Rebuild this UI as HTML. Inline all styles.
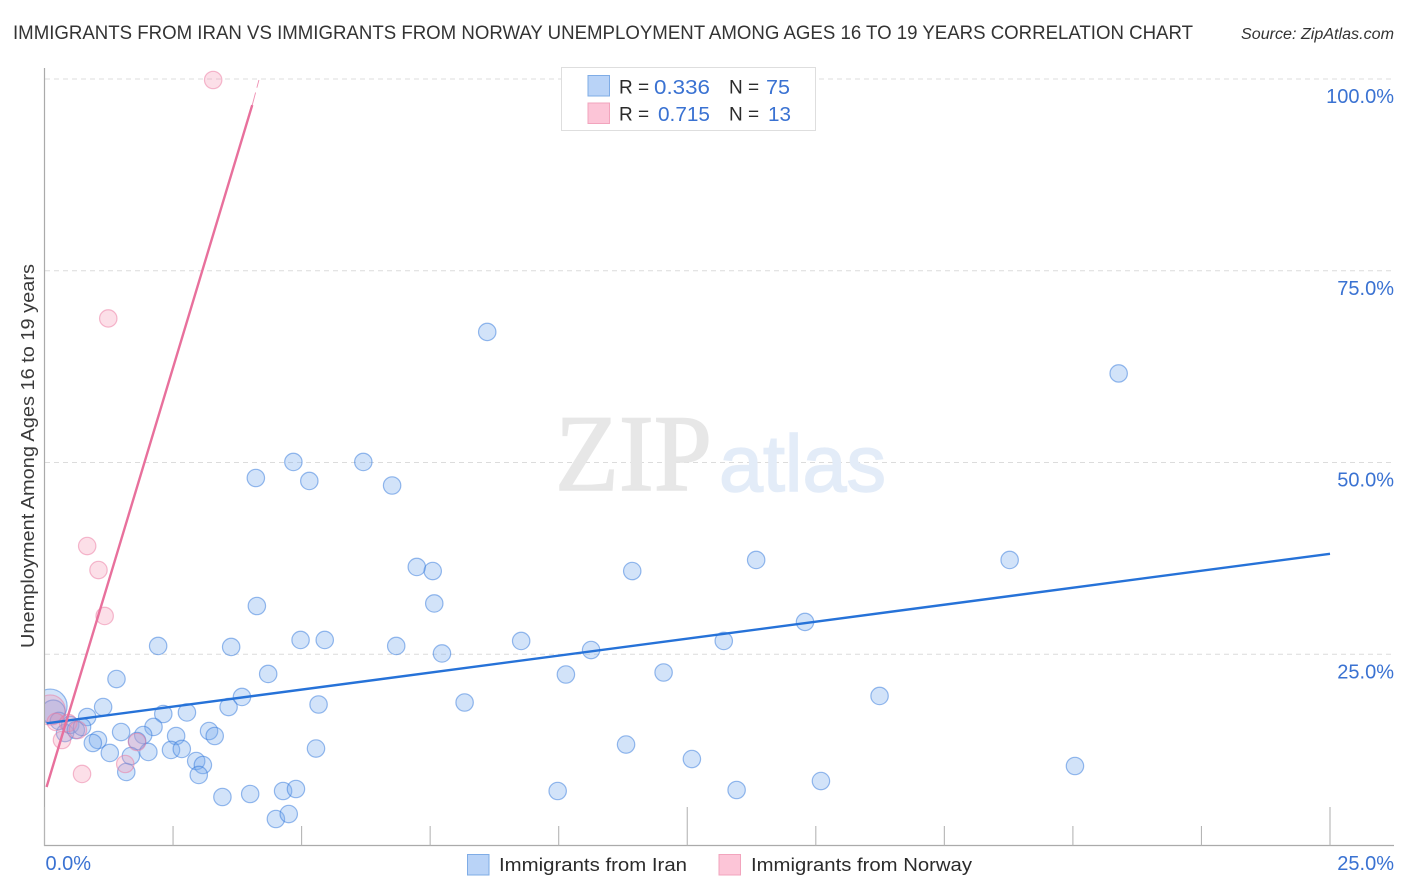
<!DOCTYPE html>
<html lang="en">
<head>
<meta charset="utf-8">
<title>Immigrants from Iran vs Immigrants from Norway Unemployment Correlation Chart</title>
<style>
html,body{margin:0;padding:0;background:#fff;width:1406px;height:892px;overflow:hidden}
svg{display:block;font-family:"Liberation Sans",sans-serif}
</style>
</head>
<body>
<svg id="chart" width="1406" height="892" viewBox="0 0 1406 892" xmlns="http://www.w3.org/2000/svg">
  <defs><clipPath id="plot-clip"><rect x="44.5" y="60" width="1350" height="786"/></clipPath></defs>
  <rect x="0" y="0" width="1406" height="892" fill="#fff"/>
  <text x="13" y="39" font-size="19.5" fill="#333" textLength="1180" lengthAdjust="spacingAndGlyphs">IMMIGRANTS FROM IRAN VS IMMIGRANTS FROM NORWAY UNEMPLOYMENT AMONG AGES 16 TO 19 YEARS CORRELATION CHART</text>
  <text x="1241" y="39" font-size="15.5" font-style="italic" fill="#333" textLength="153" lengthAdjust="spacingAndGlyphs">Source: ZipAtlas.com</text>
  <g id="grid"></g>
  <text x="555" y="490" font-family="'Liberation Serif',serif" font-size="109" fill="#e7e7e7" stroke="#e7e7e7" stroke-width="1.5" textLength="157" lengthAdjust="spacingAndGlyphs">ZIP</text>
  <text x="719" y="491" font-size="80" fill="#e3ecf8" stroke="#e3ecf8" stroke-width="1.5" textLength="167" lengthAdjust="spacingAndGlyphs">atlas</text>
  <g id="iran-points" clip-path="url(#plot-clip)"></g>
  <g id="norway-points" clip-path="url(#plot-clip)"></g>
  <g id="trends"></g>
  <g id="axes"></g>
  <text transform="translate(34,648) rotate(-90)" x="0" y="0" font-size="18" fill="#3a3a3a" textLength="384" lengthAdjust="spacingAndGlyphs">Unemployment Among Ages 16 to 19 years</text>

  <g>
    <rect x="561.5" y="67.5" width="254" height="63" fill="#fff" stroke="#dedede" stroke-width="1"/>
    <rect x="588" y="75.5" width="21.5" height="20.5" fill="#b9d3f7" stroke="#7facE6" stroke-width="1"/>
    <rect x="588" y="103" width="21.5" height="20.5" fill="#fcc5d7" stroke="#f2a4bd" stroke-width="1"/>
    <text x="619" y="93.5" font-size="19" fill="#2b2b2b">R =</text>
    <text x="710" y="94" font-size="20.5" fill="#3a72d2" text-anchor="end" textLength="56" lengthAdjust="spacingAndGlyphs">0.336</text>
    <text x="729" y="93.5" font-size="19" fill="#2b2b2b">N =</text>
    <text x="790" y="94" font-size="20.5" fill="#3a72d2" text-anchor="end" textLength="24" lengthAdjust="spacingAndGlyphs">75</text>
    <text x="619" y="120.5" font-size="19" fill="#2b2b2b">R =</text>
    <text x="710" y="121" font-size="20.5" fill="#3a72d2" text-anchor="end" textLength="52" lengthAdjust="spacingAndGlyphs">0.715</text>
    <text x="729" y="120.5" font-size="19" fill="#2b2b2b">N =</text>
    <text x="791" y="121" font-size="20.5" fill="#3a72d2" text-anchor="end" textLength="23" lengthAdjust="spacingAndGlyphs">13</text>
  </g>

  <g>
    <rect x="467.5" y="854.5" width="21.5" height="20.5" fill="#b9d3f7" stroke="#7facE6" stroke-width="1"/>
    <text x="499" y="871" font-size="18.5" fill="#2b2b2b" textLength="188" lengthAdjust="spacingAndGlyphs">Immigrants from Iran</text>
    <rect x="719" y="854.5" width="21.5" height="20.5" fill="#fcc5d7" stroke="#f2a4bd" stroke-width="1"/>
    <text x="751" y="871" font-size="18.5" fill="#2b2b2b" textLength="221" lengthAdjust="spacingAndGlyphs">Immigrants from Norway</text>
  </g>
</svg>
<script>
// ---- data (percent units) ----
const iranX = [8.61,20.89,4.11,4.84,5.15,6.20,6.76,7.24,7.55,7.58,11.43,13.84,18.77,4.13,4.98,5.45,6.84,7.73,9.27,10.63,13.21,14.79,2.21,3.63,4.35,1.40,10.14,12.04,16.24,3.84,3.58,5.33,8.17,1.14,0.83,2.31,2.77,2.12,3.20,3.31,1.49,1.92,2.56,1.04,0.94,5.28,11.31,1.27,1.80,2.02,2.46,2.67,1.68,2.95,3.08,12.59,20.04,1.59,3.00,3.46,4.00,4.64,4.89,9.98,13.46,15.10,4.50,4.75,0.11,0.17,0.28,0.40,0.50,0.61,0.73];
const iranY = [67.02,61.61,47.98,50.07,47.59,50.07,47.00,36.38,35.85,31.62,35.85,37.29,37.29,31.29,26.86,26.86,26.08,25.10,26.73,25.55,26.73,29.21,26.08,25.95,22.43,21.77,22.36,22.62,19.56,19.43,18.12,18.45,18.71,18.12,16.82,17.21,17.41,15.52,14.99,14.34,14.86,14.47,14.34,13.82,13.43,12.71,13.23,12.13,13.69,12.26,12.52,12.65,11.73,11.08,10.56,11.34,10.43,9.65,9.26,6.39,6.78,7.17,7.43,7.17,7.30,8.47,3.52,4.17,18.25,17.47,16.30,14.73,15.78,15.12,15.52];
const iranWeight = [1,1,1,1,1,1,1,1,1,1,1,1,1,1,1,1,1,1,1,1,1,1,1,1,1,1,1,1,1,1,1,1,1,1,1,1,1,1,1,1,1,1,1,1,1,1,1,1,1,1,1,1,1,1,1,1,1,1,1,1,1,1,1,1,1,1,1,1,3.8,1.9,1,1,1,1,1];
const norwayX = [3.28,1.24,0.83,1.05,1.17,0.11,0.22,0.34,0.46,0.65,0.73,1.57,1.80];
const norwayY = [99.87,68.78,39.11,35.98,29.99,17.73,16.17,13.82,16.04,15.12,9.39,10.69,13.56];
const norwayWeight = [1,1,1,1,1,3,1,1,1,1,1,1,1];
const iranTrendX = [0.04,25];
const iranTrendY = [16.0,38.1];
const norwayTrendX = [0.04,4.04];
const norwayTrendY = [7.69,96.6];
const norwayDashX = [4.04,4.17];
const norwayDashY = [96.6,99.87];
const yTickValues = [25,50,75,100];
const yTickLabels = ['25.0%','50.0%','75.0%','100.0%'];
const xTickValues = [0,2.5,5,7.5,10,12.5,15,17.5,20,22.5,25];
const xMajorTicks = [0,12.5,25];
const xEdgeValues = [0,25];
const xEdgeLabels = ['0.0%','25.0%'];

// ---- axis functions ----
const NS = 'http://www.w3.org/2000/svg';
function xScale(v){ return 44.5 + v * 51.42; }
function yScale(v){ return 846 - v * 7.67; }
function radius(w){ return 8.7 * Math.sqrt(w); }
function make(tag, parentId, props){
  const el = document.createElementNS(NS, tag);
  for (const k in props) el.setAttribute(k, props[k]);
  document.getElementById(parentId).appendChild(el);
  return el;
}

// ---- gridlines and y labels ----
yTickValues.forEach(function(v, i){
  const grid = make('line', 'grid', {x1:45, x2:1394, y1:yScale(v), y2:yScale(v), stroke:'#dcdcdc', 'stroke-width':1, 'stroke-dasharray':'5 4'});
  
  
  const label = make('text', 'axes', {x:1394, y:yScale(v) + 24, 'font-size':20, fill:'#3a72d2', 'text-anchor':'end'});
  label.textContent = yTickLabels[i];
  
  
});

// ---- points ----
iranX.forEach(function(v, i){
  const c = make('circle', 'iran-points', {cx:xScale(v), cy:yScale(iranY[i]), r:radius(iranWeight[i]), fill:'rgba(118,170,238,0.33)', stroke:'rgba(50,120,220,0.5)', 'stroke-width':1.2});
  
  
});
norwayX.forEach(function(v, i){
  const c = make('circle', 'norway-points', {cx:xScale(v), cy:yScale(norwayY[i]), r:radius(norwayWeight[i]), fill:'rgba(245,150,180,0.30)', stroke:'rgba(235,120,160,0.50)', 'stroke-width':1.2});
  
  
});

// ---- trend lines ----
const iranLine = make('line', 'trends', {x1:xScale(iranTrendX[0]), y1:yScale(iranTrendY[0]), x2:xScale(iranTrendX[1]), y2:yScale(iranTrendY[1]), stroke:'#2672d8', 'stroke-width':2.4});


const norwayLine = make('line', 'trends', {x1:xScale(norwayTrendX[0]), y1:yScale(norwayTrendY[0]), x2:xScale(norwayTrendX[1]), y2:yScale(norwayTrendY[1]), stroke:'#e8709c', 'stroke-width':2.4});


const norwayDash = make('line', 'trends', {x1:xScale(norwayDashX[0]), y1:yScale(norwayDashY[0]), x2:xScale(norwayDashX[1]), y2:yScale(norwayDashY[1]), stroke:'#ee8fb2', 'stroke-width':0.9, 'stroke-dasharray':'13 5 8'});



// ---- axes ----
const yAxisLine = make('line', 'axes', {x1:44.5, x2:44.5, y1:68, y2:846, stroke:'#aaa', 'stroke-width':1.2});


const xAxisLine = make('line', 'axes', {x1:44, x2:1394, y1:845.5, y2:845.5, stroke:'#aaa', 'stroke-width':1.2});


xTickValues.forEach(function(v){
  const tick = make('line', 'axes', {x1:xScale(v), x2:xScale(v), y1:845.5, y2:xMajorTicks.indexOf(v) >= 0 ? 807 : 826, stroke:'#b5b5b5', 'stroke-width':1.1});
  
  
});
xEdgeValues.forEach(function(v, i){
  const label = make('text', 'axes', {x: i === 0 ? xScale(v) + 1 : 1394, y:870, 'font-size':20, fill:'#3a72d2', 'text-anchor': i === 0 ? 'start' : 'end'});
  label.textContent = xEdgeLabels[i];
  
  
});
</script>
</body>
</html>
